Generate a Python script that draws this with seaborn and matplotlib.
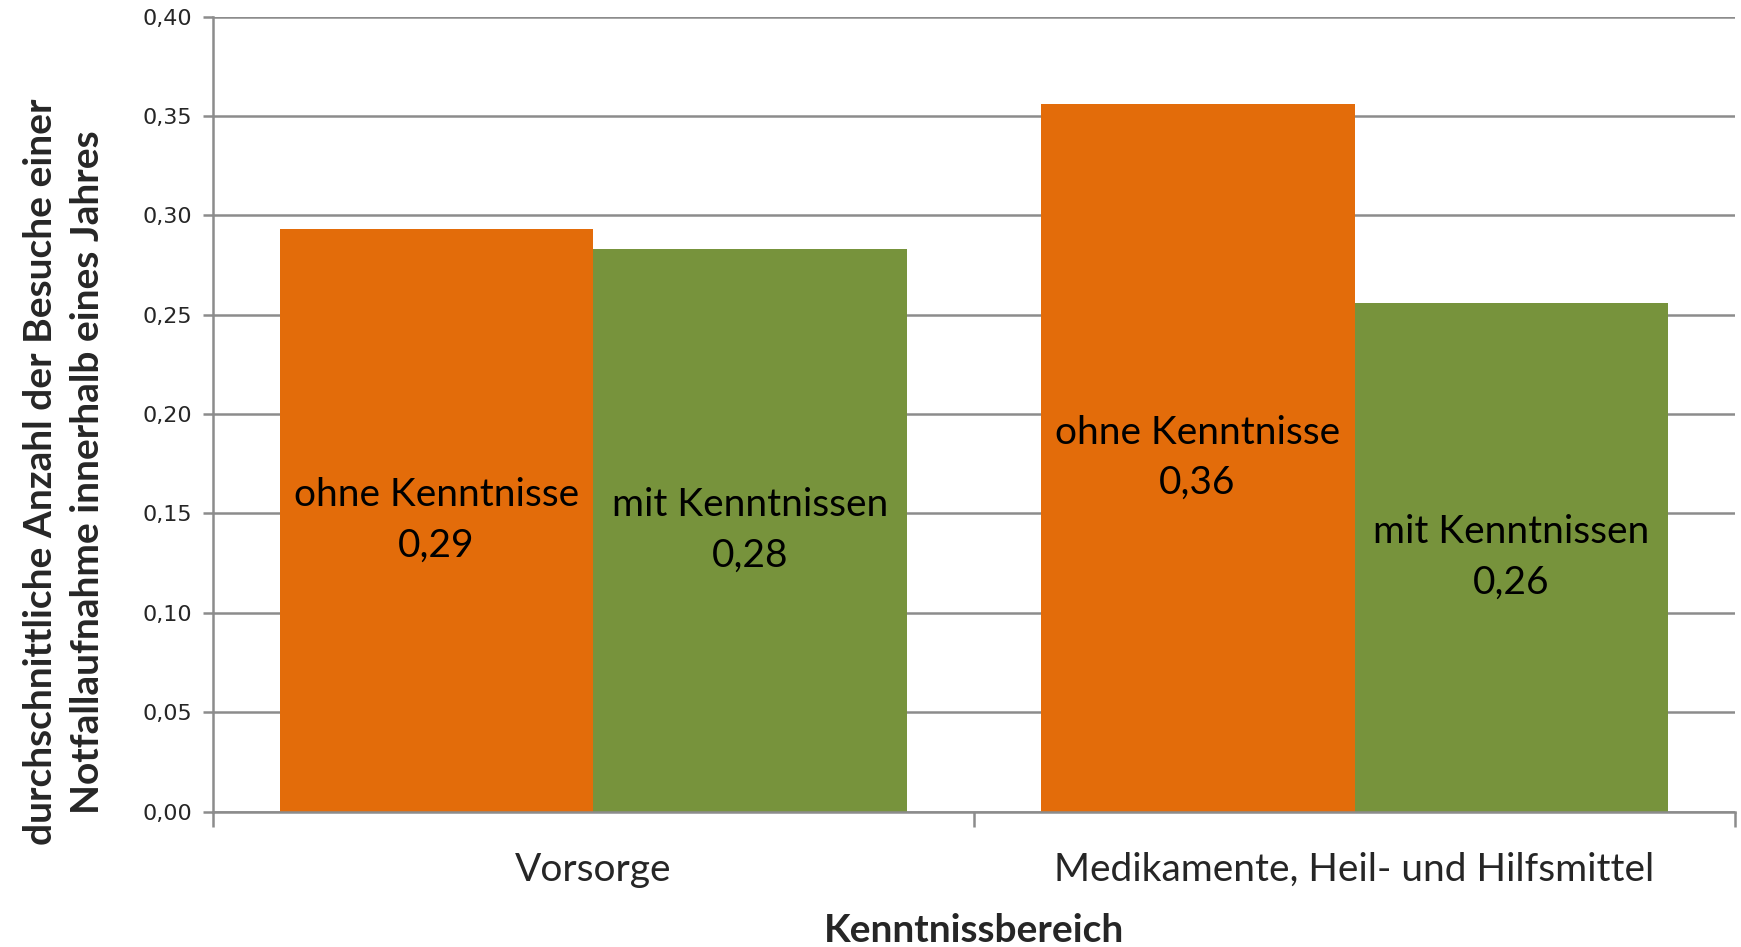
import matplotlib
matplotlib.use("Agg")
import matplotlib.pyplot as plt
import seaborn as sns
import pandas as pd
from matplotlib.ticker import FuncFormatter, FixedLocator

# -------------------------
# DATA
# -------------------------
categories = ["Vorsorge", "Medikamente, Heil- und Hilfsmittel"]
groups = ["ohne Kenntnisse", "mit Kenntnissen"]
ohne_values = [0.293, 0.356]
mit_values = [0.283, 0.256]
label_values = {"ohne Kenntnisse": ["0,29", "0,36"], "mit Kenntnissen": ["0,28", "0,26"]}
y_ticks = [0.00, 0.05, 0.10, 0.15, 0.20, 0.25, 0.30, 0.35, 0.40]

df = pd.DataFrame({
    "Kenntnissbereich": categories * 2,
    "Gruppe": [groups[0]] * 2 + [groups[1]] * 2,
    "Wert": ohne_values + mit_values,
})

# -------------------------
# STYLE
# -------------------------
sns.set_theme(style="white")
plt.rcParams['font.family'] = ['Lato', 'DejaVu Sans']
grid_col = "#8c8c8c"
palette = {"ohne Kenntnisse": "#E36C0A", "mit Kenntnissen": "#77933C"}

fig = plt.figure(figsize=(17.41, 9.47), dpi=100)
ax = fig.add_axes([0.1223, 0.1430, 0.8743, 0.8394])

sns.barplot(data=df, x="Kenntnissbereich", y="Wert", hue="Gruppe", palette=palette,
            width=0.825, gap=0, saturation=1, ax=ax, legend=False, linewidth=0)

# bar labels in the middle of each bar
for cont, g in zip(ax.containers, groups):
    ax.bar_label(cont, labels=[f"{g}\n{v}" for v in label_values[g]], label_type="center",
                 fontsize=28, color="black", linespacing=1.5)

# -------------------------
# AXES
# -------------------------
ax.set_ylim(0, 0.40)
ax.set_xlim(-0.5, 1.5)
ax.yaxis.set_major_locator(FixedLocator(y_ticks))
ax.yaxis.set_major_formatter(FuncFormatter(lambda v, p: f"{v:.2f}".replace(".", ",")))
ax.grid(axis="y", color=grid_col, linewidth=1.8)
ax.set_axisbelow(True)
for side in ["top", "right"]:
    ax.spines[side].set_visible(False)
for side in ["left", "bottom"]:
    ax.spines[side].set_color(grid_col)
    ax.spines[side].set_linewidth(1.8)

ax.tick_params(axis="y", which="major", left=True, length=7, width=1.8, color=grid_col,
               labelsize=16, pad=8)
for lab in ax.get_yticklabels():
    lab.set_family(['DejaVu Sans'])
ax.xaxis.set_minor_locator(FixedLocator([-0.5, 0.5, 1.5]))
ax.tick_params(axis="x", which="minor", bottom=True, length=11, width=1.8, color=grid_col)
ax.tick_params(axis="x", which="major", bottom=False, labelsize=28, pad=23)

ax.set_xlabel("Kenntnissbereich", fontsize=28, fontweight="bold", labelpad=18)
ax.set_ylabel("durchschnittliche Anzahl der Besuche einer\nNotfallaufnahme innerhalb eines Jahres",
              fontsize=28, fontweight="bold", linespacing=1.4)
ax.yaxis.set_label_coords(-0.071, 0.427)

plt.savefig("out.png", dpi=100)
